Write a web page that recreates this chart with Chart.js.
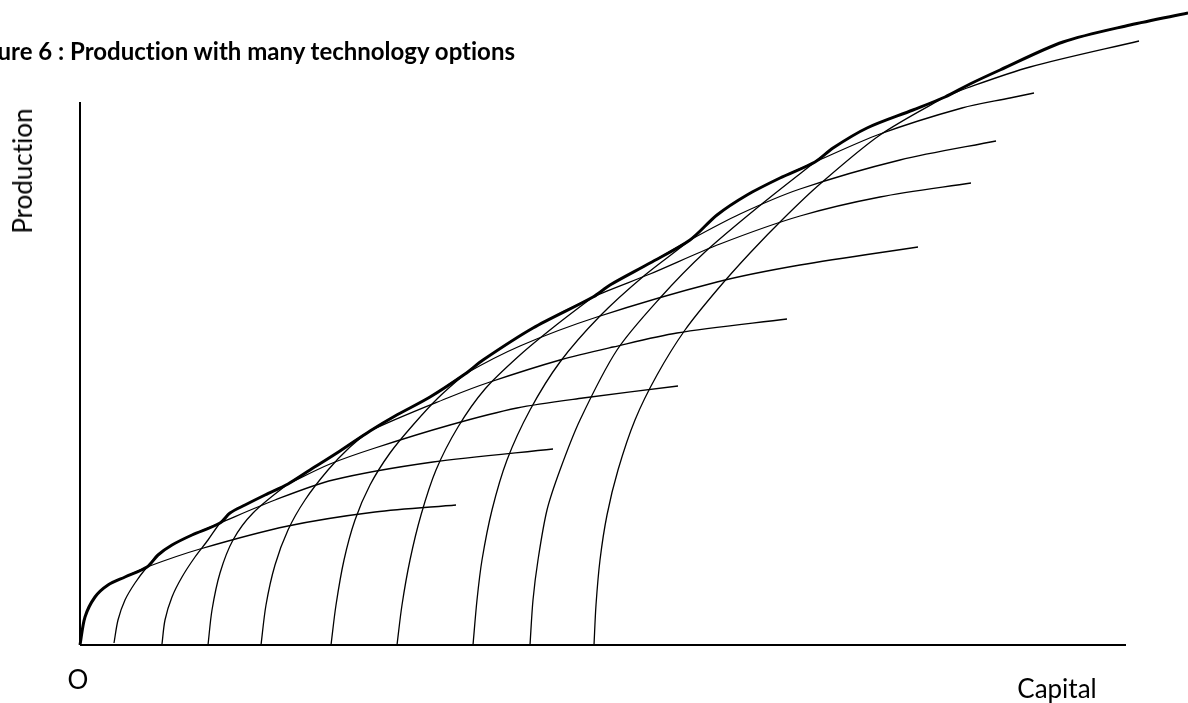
<!DOCTYPE html>
<html>
<head>
<meta charset="utf-8">
<script src="https://cdn.jsdelivr.net/npm/chart.js@4.4.1/dist/chart.umd.min.js"></script>
<style>
  html, body { margin: 0; padding: 0; background: #fff; overflow: hidden; }
  #wrap { position: relative; width: 1188px; height: 703px; }
  #chart { position: absolute; left: 0; top: 0; }
  .lbl { position: absolute; font-family: Lato, "Open Sans", sans-serif; color: #000; white-space: nowrap; line-height: 1;
         font-variant-ligatures: none; font-feature-settings: "liga" 0; }
  #title { right: 673px; top: 39px; font-weight: bold; font-size: 24px; }
  #ylab { left: 22px; top: 171px; font-size: 26px; transform: translate(-50%, -50%) rotate(-90deg); }
  #olab { left: 78px; top: 679px; font-size: 26px; transform: translate(-50%, -50%); }
  #xlab { left: 1057px; top: 688px; font-size: 26px; transform: translate(-50%, -50%); }
</style>
</head>
<body>
<div id="wrap">
  <canvas id="chart" width="1188" height="703"></canvas>
  <div class="lbl" id="title">Figure 6 : Production with many technology options</div>
  <div class="lbl" id="ylab">Production</div>
  <div class="lbl" id="olab">O</div>
  <div class="lbl" id="xlab">Capital</div>
</div>
<script>
// each technology: [capital, production]
const tech1 = [[0,0],[5,28],[15,48],[28,60],[45,68],[67,78],[120,96],[208,119],[295,133],[376,140]];
const tech2 = [[34,2],[38,25],[45,45],[55,62],[67,78],[78,90],[92,100],[112,110],[140,122],[195,145],[253,165],[353,183],[473,196]];
const tech3 = [[82,1],[85,25],[92,48],[102,68],[115,88],[128,105],[140,122],[150,132],[165,140],[185,150],[208,161],[250,181],[295,197],[370,220],[437,237],[503,247],[598,259]];
const tech4 = [[128,0],[132,35],[140,72],[153,105],[173,132],[208,161],[230,175],[260,194],[290,214],[370,248],[410,263],[480,285],[533,298],[597,312],[707,326]];
const tech5 = [[181,0],[186,40],[195,80],[208,115],[225,145],[248,175],[270,198],[290,214],[315,229],[350,248],[385,271],[440,299],[517,328],[637,363],[720,380],[838,398]];
const tech6 = [[251,0],[256,40],[264,85],[275,125],[290,160],[310,192],[333,220],[358,247],[385,271],[403,285],[453,317],[513,348],[570,371],[640,401],[720,429],[800,448],[891,462]];
const tech7 = [[317,0],[322,40],[330,85],[341,130],[356,175],[378,218],[405,256],[440,290],[475,319],[513,348],[530,360],[570,382],[610,405],[660,431],[720,456],[820,485],[916,504]];
const tech8 = [[393,0],[397,45],[402,85],[412,135],[427,185],[450,235],[480,283],[520,329],[565,370],[610,405],[637,430],[667,450],[700,467],[735,483],[800,511],[882,537],[930,547],[954,552]];
const tech9 = [[450,0],[453,45],[458,85],[467,135],[480,175],[500,225],[537,295],[580,347],[625,393],[683,442],[735,483],[753,497],[787,517],[833,535],[865,548],[887,557],[950,578],[1059,604]];
const tech10 = [[514,0],[516,40],[520,85],[527,130],[538,175],[555,225],[577,270],[605,315],[637,355],[670,392],[705,428],[740,461],[800,510],[865,548],[890,561],[920,575],[983,603],[1050,620],[1108,632]];

// upper envelope (thick line)
const frontier = [[0,0],[5,28],[15,48],[28,60],[45,68],[67,78],[78,90],[92,100],[112,110],[140,122],
  [150,132],[165,140],[185,150],[208,161],[230,175],[260,194],[290,214],[315,229],[350,248],[385,271],
  [403,285],[453,317],[513,348],[530,360],[570,382],[610,405],[637,430],[667,450],[700,467],[735,483],
  [753,497],[787,517],[833,535],[865,548],[890,561],[920,575],[983,603],[1050,620],[1108,632]];

const axisY = [[0,0],[0,543]];
const axisX = [[0,0],[1046,0]];

const techs = [tech1, tech2, tech3, tech4, tech5, tech6, tech7, tech8, tech9, tech10];

function pts(arr) {
  return arr.map(p => ({ x: p[0], y: p[1] }));
}

const datasets = [];
techs.forEach((t, i) => {
  datasets.push({
    label: 'Technology ' + (i + 1),
    data: pts(t),
    borderColor: '#000',
    borderWidth: 1.3,
    tension: 0.3
  });
});
datasets.push({ label: 'Frontier', data: pts(frontier), borderColor: '#000', borderWidth: 3, tension: 0.3 });
datasets.push({ label: 'axis y', data: pts(axisY), borderColor: '#000', borderWidth: 2, tension: 0 });
datasets.push({ label: 'axis x', data: pts(axisX), borderColor: '#000', borderWidth: 2, tension: 0 });

new Chart(document.getElementById('chart'), {
  type: 'scatter',
  data: { datasets: datasets },
  options: {
    responsive: false,
    animation: false,
    devicePixelRatio: 1,
    showLine: true,
    elements: { point: { radius: 0, hoverRadius: 0 }, line: { fill: false } },
    layout: { padding: 0 },
    plugins: { legend: { display: false }, tooltip: { enabled: false }, title: { display: false } },
    scales: {
      x: { type: 'linear', min: -80, max: 1108, display: false },
      y: { type: 'linear', min: -58, max: 645, display: false }
    }
  }
});
</script>
</body>
</html>
